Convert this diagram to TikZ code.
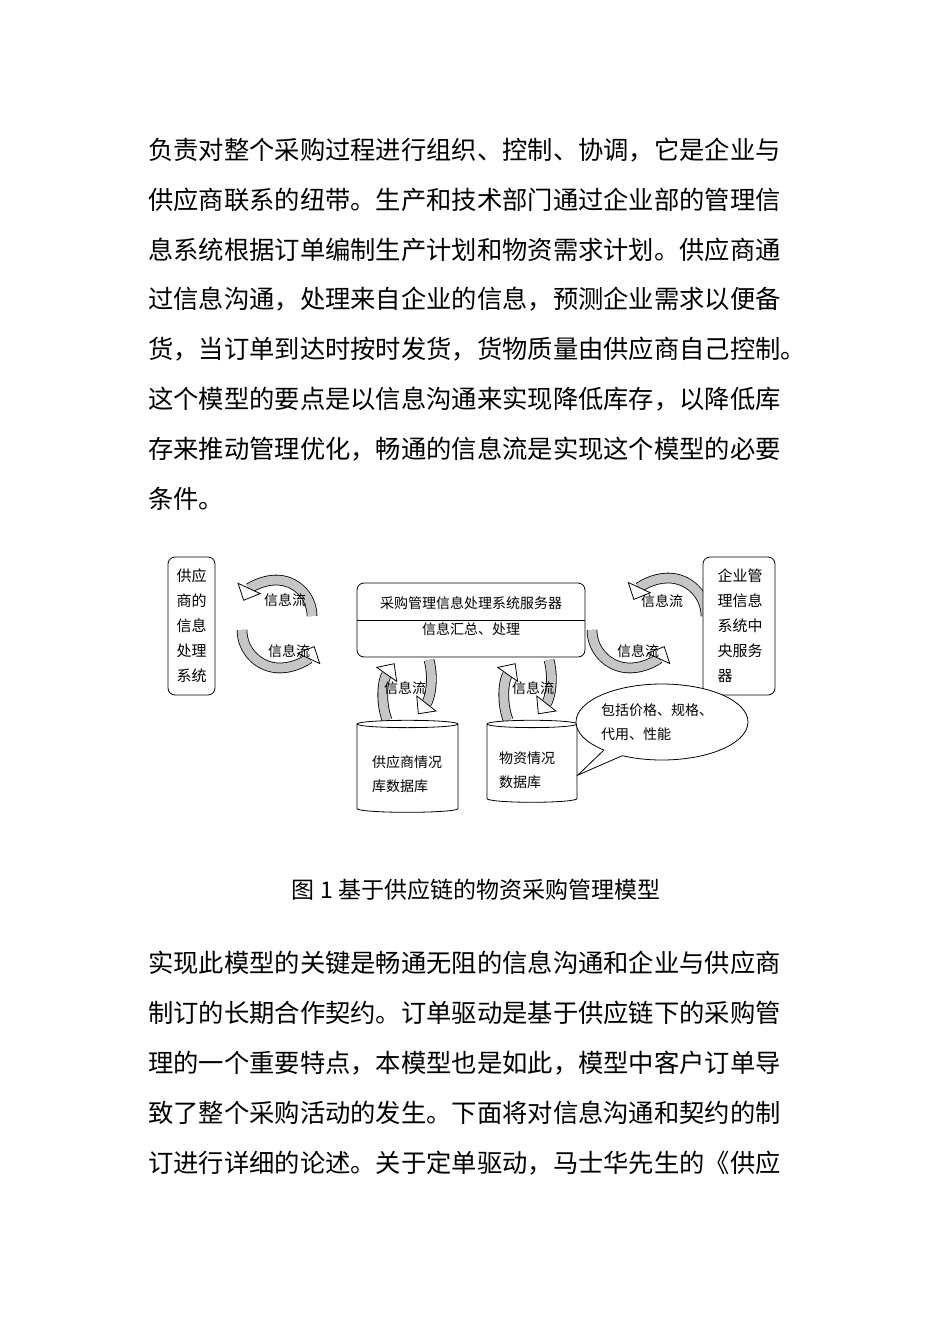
\documentclass[tikz,border=0pt]{standalone}
\usepackage{fontspec}
\setmainfont{Noto Sans CJK SC}
\usetikzlibrary{arrows.meta,shapes.geometric,shapes.callouts}
\begin{document}
\begin{tikzpicture}[x=1pt,y=-1pt,
 body/.style={anchor=west,inner sep=0pt,font=\fontsize{25.3}{25}\selectfont},
 small/.style={font=\fontsize{14}{24}\selectfont,align=left},
 flow/.style={double=gray!45,double distance=9pt,line width=0.8pt,-{Triangle[open,length=14pt,width=26pt,fill=white]}},
 box/.style={draw,rounded corners=7pt,line width=0.8pt}]
\useasboundingbox (0,0) rectangle (950,1344);
\foreach \t [count=\i] in {负责对整个采购过程进行组织、控制、协调，它是企业与,供应商联系的纽带。生产和技术部门通过企业部的管理信,息系统根据订单编制生产计划和物资需求计划。供应商通,过信息沟通，处理来自企业的信息，预测企业需求以便备,货，当订单到达时按时发货，货物质量由供应商自己控制。,这个模型的要点是以信息沟通来实现降低库存，以降低库,存来推动管理优化，畅通的信息流是实现这个模型的必要,条件。}
  \node[body] (p\i) at (148,100+\i*49.8) {\t};
\foreach \t [count=\i] in {实现此模型的关键是畅通无阻的信息沟通和企业与供应商,制订的长期合作契约。订单驱动是基于供应链下的采购管,理的一个重要特点，本模型也是如此，模型中客户订单导,致了整个采购活动的发生。下面将对信息沟通和契约的制,订进行详细的论述。关于定单驱动，马士华先生的《供应}
  \node[body] (q\i) at (148,913+\i*50) {\t};
\node[font=\fontsize{23}{23}\selectfont] (cap) at (476,890) {图 1 基于供应链的物资采购管理模型};
% flows (drawn first, under boxes)
\draw[flow] (312,616) arc[start angle=0,end angle=155,radius=36pt] coordinate (a1);
\node[small] (f1) at (285,600) {信息流};
\draw[flow] (242,630) arc[start angle=180,end angle=335,radius=38pt] coordinate (a2);
\node[small] (f2) at (289,651) {信息流};
\draw[flow] (706,616) arc[start angle=0,end angle=155,radius=38pt] coordinate (a3);
\node[small] (f3) at (662,601) {信息流};
\draw[flow] (592,630) arc[start angle=180,end angle=335,radius=38pt] coordinate (a4);
\node[small] (f4) at (638,651) {信息流};
\draw[flow] (387,720) arc[start angle=200,end angle=145,radius=62pt] coordinate (v1);
\draw[flow] (429,660) arc[start angle=15,end angle=-38,radius=62pt] coordinate (v2);
\node[small] (f5) at (405,688) {信息流};
\draw[flow] (508,720) arc[start angle=200,end angle=145,radius=62pt] coordinate (v3);
\draw[flow] (549,660) arc[start angle=15,end angle=-38,radius=62pt] coordinate (v4);
\node[small] (f6) at (533,688) {信息流};
% boxes
\node[box,fill=white,minimum width=47pt,minimum height=138pt] (L) at (191.5,626) {};
\node[font=\fontsize{15}{25}\selectfont,align=center] (Lt) at (L) {供应\\商的\\信息\\处理\\系统};
\node[box,fill=white,minimum width=72pt,minimum height=138pt] (R) at (739,626) {};
\node[font=\fontsize{15}{25}\selectfont,align=left] (Rt) at (740,626) {企业管\\理信息\\系统中\\央服务\\器};
\node[box,fill=white,minimum width=228pt,minimum height=74pt] (C) at (471,620) {};
\draw (C.west|-0,620) -- (C.east|-0,620);
\node[small] (Ct) at (471,603) {采购管理信息处理系统服务器};
\node[small] (Cs) at (471,629) {信息汇总、处理};
% cylinders
\node[cylinder,shape border rotate=90,draw,fill=white,line width=0.8pt,minimum width=101pt,minimum height=92pt,aspect=1.1] (D1) at (407.5,769) {};
\node[small] (D1t) at (407,774) {供应商情况\\库数据库};
\node[cylinder,shape border rotate=90,draw,fill=white,line width=0.8pt,minimum width=90pt,minimum height=82pt,aspect=1.1] (D2) at (532,764) {};
\node[small] (D2t) at (527,770) {物资情况\\数据库};
% bubble
\node[ellipse callout,draw,fill=white,line width=0.8pt,minimum width=172pt,minimum height=76pt,callout absolute pointer={(578,775)}] (B) at (662,722) {};
\node[small] (Bt) at (657,722) {包括价格、规格、\\代用、性能};
\end{tikzpicture}
\end{document}
